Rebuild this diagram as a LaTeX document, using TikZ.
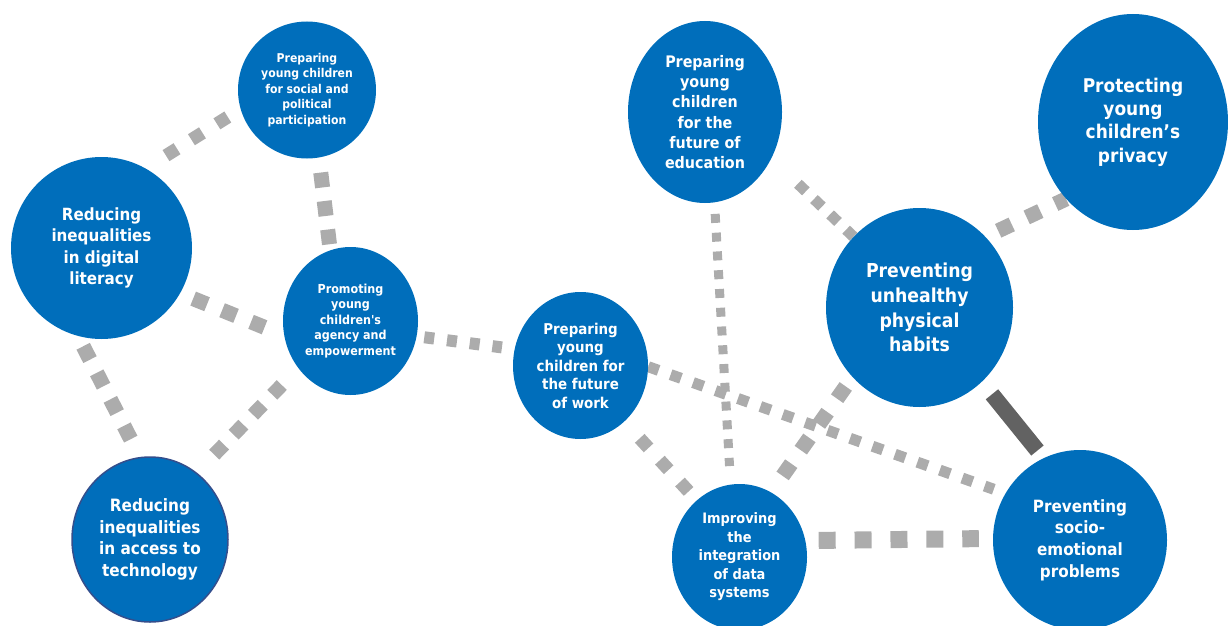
\documentclass[tikz,border=0pt]{standalone}
\usepackage{fontspec}
\usepackage{tikz}
\usetikzlibrary{shapes,shapes.geometric}
\usetikzlibrary{backgrounds}
\newfontfamily\bubblefont{DejaVu Sans Condensed}
\definecolor{bubbleblue}{RGB}{0,110,187}
\definecolor{bubbleedge}{RGB}{52,78,140}
\definecolor{linkgray}{RGB}{172,172,172}
\definecolor{bargray}{RGB}{98,98,98}
\tikzset{
	bubble/.style={ellipse, fill=bubbleblue, text=white, inner sep=0pt, align=center},
	bubfont/.style 2 args={font=\bubblefont\bfseries\fontsize{#1}{#2}\selectfont},
	dots/.style 2 args={draw=linkgray, line width=#1pt, dash pattern=on #1pt off #2pt},
}

\begin{document}
\begin{tikzpicture}[x=1pt,y=-1pt]
			\useasboundingbox (0,0) rectangle (1228,626);
			\clip (0,0) rectangle (1228,626);
			% left group
			\node[bubble, bubfont={12.1}{15.5}, minimum width=138pt, minimum height=137pt] (social) at (307,90) {Preparing\\young children\\for social and\\political\\participation};
			\node[bubble, bubfont={16.8}{21.5}, minimum width=181pt, minimum height=182pt] (digital) at (101.5,248) {Reducing\\inequalities\\in digital\\literacy};
			\node[bubble, bubfont={12.4}{15.5}, minimum width=135pt, minimum height=148pt] (agency) at (350.5,321) {Promoting\\young\\children\textquotesingle s\\agency and\\empowerment};
			\node[bubble, bubfont={17}{21.7}, draw=bubbleedge, line width=1.5pt, minimum width=156pt, minimum height=165pt] (access) at (150,539.5) {Reducing\\inequalities\\in access to\\technology};
			% middle group
			\node[bubble, bubfont={14.9}{18.5}, minimum width=135pt, minimum height=147pt] (work) at (580.5,365.5) {Preparing\\young\\children for\\the future\\of work};
			\node[bubble, bubfont={15.9}{20.2}, minimum width=154pt, minimum height=182pt] (education) at (705,112) {Preparing\\young\\children\\for the\\future of\\education};
			\node[bubble, bubfont={14.4}{18.5}, minimum width=135pt, minimum height=146pt] (data) at (739.5,557) {Improving\\the\\integration\\of data\\systems};
			% right group
			\node[bubble, bubfont={19.2}{24.7}, minimum width=187pt, minimum height=199pt] (physical) at (919.5,307.5) {Preventing\\unhealthy\\physical\\habits};
			\node[bubble, bubfont={18.9}{23.3}, minimum width=190pt, minimum height=216pt] (privacy) at (1133,122) {Protecting\\young\\children’s\\privacy};
			\node[bubble, bubfont={16.9}{21.7}, minimum width=174pt, minimum height=180pt] (socio) at (1080,540) {Preventing\\socio-\\emotional\\problems};
			% links
			\begin{scope}[on background layer]
				\draw[dots={13}{17}, shorten <=24pt, shorten >=15pt] (digital.61) -- (social.196);
				\draw[dots={15}{13.7}, shorten <=15pt, shorten >=6pt] (social.280) -- (agency.106);
				\draw[dots={15}{16.2}, shorten <=14pt, shorten >=21pt] (digital.330) -- (agency.192);
				\draw[dots={15}{14.8}, shorten <=11.5pt, shorten >=20pt] (digital.255) -- (access.97);
				\draw[dots={14}{13.8}, shorten <=25pt, shorten >=23.6pt] (access.55) -- (agency.222);
				\draw[dots={12}{12.9}, dash pattern=on 10pt off 12.9pt, shorten <=7.6pt, shorten >=12.7pt] (agency.347) -- (work.166);
				\draw[dots={13}{16.7}, shorten <=22.7pt, shorten >=12pt] (work.308) -- (data.127);
				\draw[dots={11}{12.8}, shorten >=12.3pt] (work.359) -- (socio.148);
				\draw[dots={9}{9.8}, shorten <=11.4pt, shorten >=18.4pt] (education.276) -- (data.97);
				\draw[dots={11}{11.2}, shorten <=36.6pt] (education.325) -- (physical.133);
				\draw[dots={15}{16.5}, shorten <=11.5pt, shorten >=20pt] (physical.226) -- (data.64);
				\draw[dots={15}{16.5}, shorten <=14pt] (physical.47) -- (privacy.229);
				\draw[dots={17}{18.9}, shorten <=13.2pt, shorten >=14pt] (data.14) -- (socio.179);
				\draw[bargray, line width=16pt, shorten <=16pt, shorten >=9.7pt] (physical.310) -- (socio.114);
			\end{scope}
		\end{tikzpicture}
\end{document}
